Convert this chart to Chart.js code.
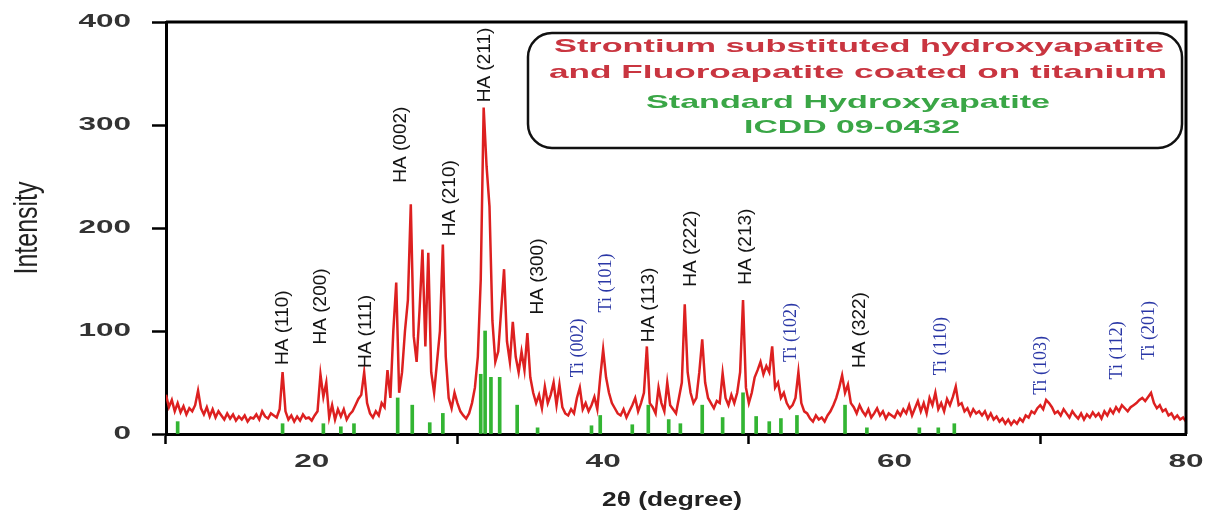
<!DOCTYPE html>
<html lang="en">
<head>
    <meta charset="UTF-8">
    <title>XRD - Sr substituted HA / FA coating on titanium</title>
    <script src="https://cdn.jsdelivr.net/npm/chart.js"></script>
    <style>
        body {
            margin: 0;
            background: #fff;
        }
        #chart-container {
            width: 1215px;
            height: 516px;
        }
    </style>
</head>
<body>
    <div id="chart-container">
        <canvas id="xrdChart" width="1215" height="516"></canvas>
    </div>

    <script>
        // Scan of the coating: 2theta from 10 to 80 deg in 0.2 deg steps
        const scanStart = 10;
        const scanStep = 0.2;
        const scanIntensity = [
            38, 26, 33, 22, 30, 21, 27, 19, 25, 22,      // 10
            28, 42, 25, 19, 26, 17, 24, 16, 22, 18,      // 12
            14, 20, 15, 19, 13, 17, 14, 18, 12, 16,      // 14
            15, 19, 14, 22, 17, 15, 20, 18, 16, 24,      // 16
            60, 22, 14, 18, 12, 17, 13, 19, 15, 16,      // 18
            13, 18, 22, 58, 36, 50, 16, 28, 14, 24,      // 20
            17, 24, 14, 19, 22, 28, 34, 38, 60, 30,      // 22
            20, 16, 22, 18, 30, 26, 62, 35, 100, 147,    // 24
            40, 60, 100, 130, 223, 95, 70, 120, 179, 85, // 26
            176, 60, 40, 70, 100, 184, 75, 35, 25, 40,   // 28
            30, 22, 18, 15, 20, 30, 45, 75, 150, 317,    // 30
            260, 221, 110, 70, 80, 120, 160, 90, 70, 109,// 32
            75, 60, 80, 62, 98, 55, 40, 30, 38, 25,      // 34
            46, 30, 38, 50, 28, 48, 26, 20, 18, 24,      // 36
            20, 35, 45, 24, 30, 22, 28, 36, 24, 55,      // 38
            82, 55, 40, 30, 25, 20, 18, 24, 16, 22,      // 40
            28, 35, 22, 30, 40, 85, 30, 26, 20, 45,      // 42
            30, 22, 50, 28, 24, 20, 35, 50, 126, 60,     // 44
            40, 30, 35, 60, 92, 50, 35, 30, 25, 32,      // 46
            30, 59, 35, 28, 38, 30, 40, 60, 130, 45,     // 48
            30, 40, 55, 62, 70, 58, 66, 60, 85, 45,      // 50
            50, 35, 40, 30, 25, 28, 35, 60, 30, 22,      // 52
            20, 15, 12, 18, 14, 16, 12, 18, 22, 28,      // 54
            35, 45, 57, 40, 48, 30, 26, 20, 28, 22,      // 56
            18, 24, 16, 20, 25, 18, 22, 15, 20, 18,      // 58
            16, 22, 18, 24, 20, 28, 18, 25, 32, 22,      // 60
            30, 20, 35, 28, 40, 24, 30, 22, 34, 28,      // 62
            36, 46, 28, 30, 22, 25, 18, 24, 20, 22,      // 64
            18, 22, 15, 20, 14, 17, 12, 15, 10, 14,      // 66
            9, 13, 10, 15, 12, 18, 16, 22, 20, 25,       // 68
            28, 24, 33, 30, 26, 20, 22, 18, 24, 20,      // 70
            16, 22, 18, 15, 20, 14, 19, 16, 21, 17,      // 72
            20, 15, 22, 18, 24, 20, 26, 22, 28, 25,      // 74
            22, 26, 28, 30, 33, 35, 32, 36, 40, 30,      // 76
            25, 28, 22, 24, 18, 20, 15, 18, 14, 16,      // 78
            12                                           // 80
        ];

        // Standard hydroxyapatite sticks (ICDD 09-0432) as drawn in the figure
        const stdAngles    = [10.8, 18.0, 20.8, 22.0, 22.9, 25.9, 26.9, 28.1, 29.0, 31.6, 31.9, 32.3, 32.9, 34.1, 35.5, 39.2, 39.8, 42.0, 43.1, 44.5, 45.3, 46.8, 48.2, 49.6, 50.5, 51.4, 52.2, 53.3, 56.6, 58.1, 61.7, 63.0, 64.1];
        const stdIntensity = [12,   10,   10,   7,    10,   35,   28,   11,   20,   58,   100,  55,   55,   28,   6,    8,    18,   9,    28,   14,   10,   28,   16,   40,   17,   12,   15,   18,   28,   6,    6,    6,    10];

        // Peak labels: text, 2theta and the intensity where the label starts
        const peakLabels      = ['HA (110)', 'HA (200)', 'HA (111)', 'HA (002)', 'HA (210)', 'HA (211)', 'HA (300)', 'Ti (002)', 'Ti (101)', 'HA (113)', 'HA (222)', 'HA (213)', 'Ti (102)', 'HA (322)', 'Ti (110)', 'Ti (103)', 'Ti (112)', 'Ti (201)'];
        const peakLabelAngles = [18.0, 20.6, 23.7, 26.1, 29.5, 31.9, 35.5, 38.3, 40.2, 43.1, 46.0, 49.8, 52.9, 57.6, 63.2, 70.1, 75.3, 77.5];
        const peakLabelLevels = [67, 87, 64, 244, 192, 322, 116, 55, 118, 89, 143, 145, 70, 64, 57, 38, 53, 72];

        const xTickValues = [20, 40, 60, 80];
        const yTickValues = [0, 100, 200, 300, 400];

        const legendLines = [
            { text: 'Strontium substituted hydroxyapatite', color: '#c93540' },
            { text: 'and Fluoroapatite coated on titanium', color: '#c93540' },
            { text: 'Standard Hydroxyapatite', color: '#3aa646' },
            { text: 'ICDD 09-0432', color: '#3aa646' }
        ];

        const scanPoints = scanIntensity.map((v, i) => ({ x: scanStart + i * scanStep, y: v }));
        const stdPoints = stdAngles.map((a, i) => ({ x: a, y: stdIntensity[i] }));

        // draw text squeezed/stretched to a given width
        function fitText(ctx, text, cx, cy, width) {
            const w = ctx.measureText(text).width;
            ctx.save();
            ctx.translate(cx, cy);
            ctx.scale(width / w, 1);
            ctx.textAlign = 'center';
            ctx.textBaseline = 'middle';
            ctx.fillText(text, 0, 0);
            ctx.restore();
        }

        const overlay = {
            id: 'overlay',
            afterDraw(chart) {
                const { ctx, chartArea: a, scales: { x, y } } = chart;
                ctx.save();

                // top and right frame
                ctx.strokeStyle = '#000';
                ctx.lineWidth = 3;
                ctx.beginPath();
                ctx.moveTo(a.left, a.top);
                ctx.lineTo(a.right, a.top);
                ctx.lineTo(a.right, a.bottom);
                ctx.stroke();

                // tick labels (wide bold digits like the original)
                ctx.fillStyle = '#333';
                ctx.font = 'bold 18px "Liberation Sans", Arial, sans-serif';
                ctx.textBaseline = 'middle';
                y.ticks.forEach(t => {
                    ctx.save();
                    ctx.translate(a.left - 35, y.getPixelForValue(t.value));
                    ctx.scale(1.75, 1);
                    ctx.textAlign = 'right';
                    ctx.fillText(String(t.value), 0, 0);
                    ctx.restore();
                });
                x.ticks.forEach(t => {
                    ctx.save();
                    ctx.translate(x.getPixelForValue(t.value), a.bottom + 28);
                    ctx.scale(1.75, 1);
                    ctx.textAlign = 'center';
                    ctx.fillText(String(t.value), 0, 0);
                    ctx.restore();
                });

                // axis titles
                ctx.fillStyle = '#222';
                ctx.font = 'bold 21px "Liberation Sans", Arial, sans-serif';
                fitText(ctx, '2\u03b8 (degree)', (a.left + a.right) / 2 - 4, a.bottom + 66, 140);

                ctx.font = '25px "Liberation Sans", Arial, sans-serif';
                ctx.save();
                ctx.translate(28, (a.top + a.bottom) / 2);
                ctx.rotate(-Math.PI / 2);
                ctx.scale(1, 1.3);
                ctx.textAlign = 'center';
                ctx.textBaseline = 'middle';
                ctx.fillText('Intensity', 0, 0);
                ctx.restore();

                // vertical peak labels
                peakLabels.forEach((label, i) => {
                    const isTi = label.startsWith('Ti');
                    ctx.save();
                    ctx.translate(x.getPixelForValue(peakLabelAngles[i]), y.getPixelForValue(peakLabelLevels[i]));
                    ctx.rotate(-Math.PI / 2);
                    ctx.fillStyle = isTi ? '#2a37a6' : '#141414';
                    ctx.font = isTi ? '18px "Liberation Serif", "Times New Roman", serif'
                                    : '19px "Liberation Sans", Arial, sans-serif';
                    ctx.textAlign = 'left';
                    ctx.textBaseline = 'middle';
                    ctx.fillText(label, 0, 0);
                    ctx.restore();
                });

                // legend box
                const bx = 528, by = 33, bw = 654, bh = 115;
                ctx.fillStyle = '#fff';
                ctx.strokeStyle = '#111';
                ctx.lineWidth = 2.5;
                ctx.beginPath();
                ctx.roundRect(bx, by, bw, bh, 24);
                ctx.fill();
                ctx.stroke();

                const lineY = [47, 73, 103, 128];
                const lineW = [610, 618, 404, 216];
                const lineX = [859, 858, 848, 852];
                ctx.font = 'bold 19px "Liberation Sans", Arial, sans-serif';
                legendLines.forEach((l, i) => {
                    ctx.fillStyle = l.color;
                    fitText(ctx, l.text, lineX[i], lineY[i], lineW[i]);
                });

                ctx.restore();
            }
        };

        const ctx = document.getElementById('xrdChart').getContext('2d');
        const chart = new Chart(ctx, {
            type: 'scatter',
            data: {
                datasets: [
                    {
                        type: 'bar',
                        label: 'Standard Hydroxyapatite ICDD 09-0432',
                        data: stdPoints,
                        backgroundColor: '#33b533',
                        borderWidth: 0,
                        barThickness: 3,
                        order: 0
                    },
                    {
                        type: 'scatter',
                        label: 'Strontium substituted hydroxyapatite and Fluoroapatite coated on titanium',
                        data: scanPoints,
                        showLine: true,
                        borderColor: '#dd2020',
                        borderWidth: 2.5,
                        pointRadius: 0,
                        tension: 0,
                        order: 1
                    }
                ]
            },
            options: {
                responsive: false,
                animation: false,
                devicePixelRatio: 1,
                layout: {
                    padding: { left: 152, right: 29, top: 22, bottom: 72 }
                },
                plugins: {
                    legend: { display: false },
                    tooltip: { enabled: false }
                },
                scales: {
                    x: {
                        type: 'linear',
                        min: 10,
                        max: 80,
                        offset: false,
                        afterBuildTicks: s => { s.ticks = xTickValues.map(v => ({ value: v })); },
                        ticks: { display: false },
                        grid: {
                            drawOnChartArea: false,
                            drawTicks: true,
                            tickLength: 10,
                            tickWidth: 2.5,
                            tickColor: '#000'
                        },
                        border: { color: '#000', width: 3 }
                    },
                    y: {
                        type: 'linear',
                        min: 0,
                        max: 400,
                        afterBuildTicks: s => { s.ticks = yTickValues.map(v => ({ value: v })); },
                        ticks: { display: false },
                        grid: {
                            drawOnChartArea: false,
                            drawTicks: true,
                            tickLength: 14,
                            tickWidth: 2.5,
                            tickColor: '#000'
                        },
                        border: { color: '#000', width: 3 }
                    }
                }
            },
            plugins: [overlay]
        });
    </script>
</body>
</html>
